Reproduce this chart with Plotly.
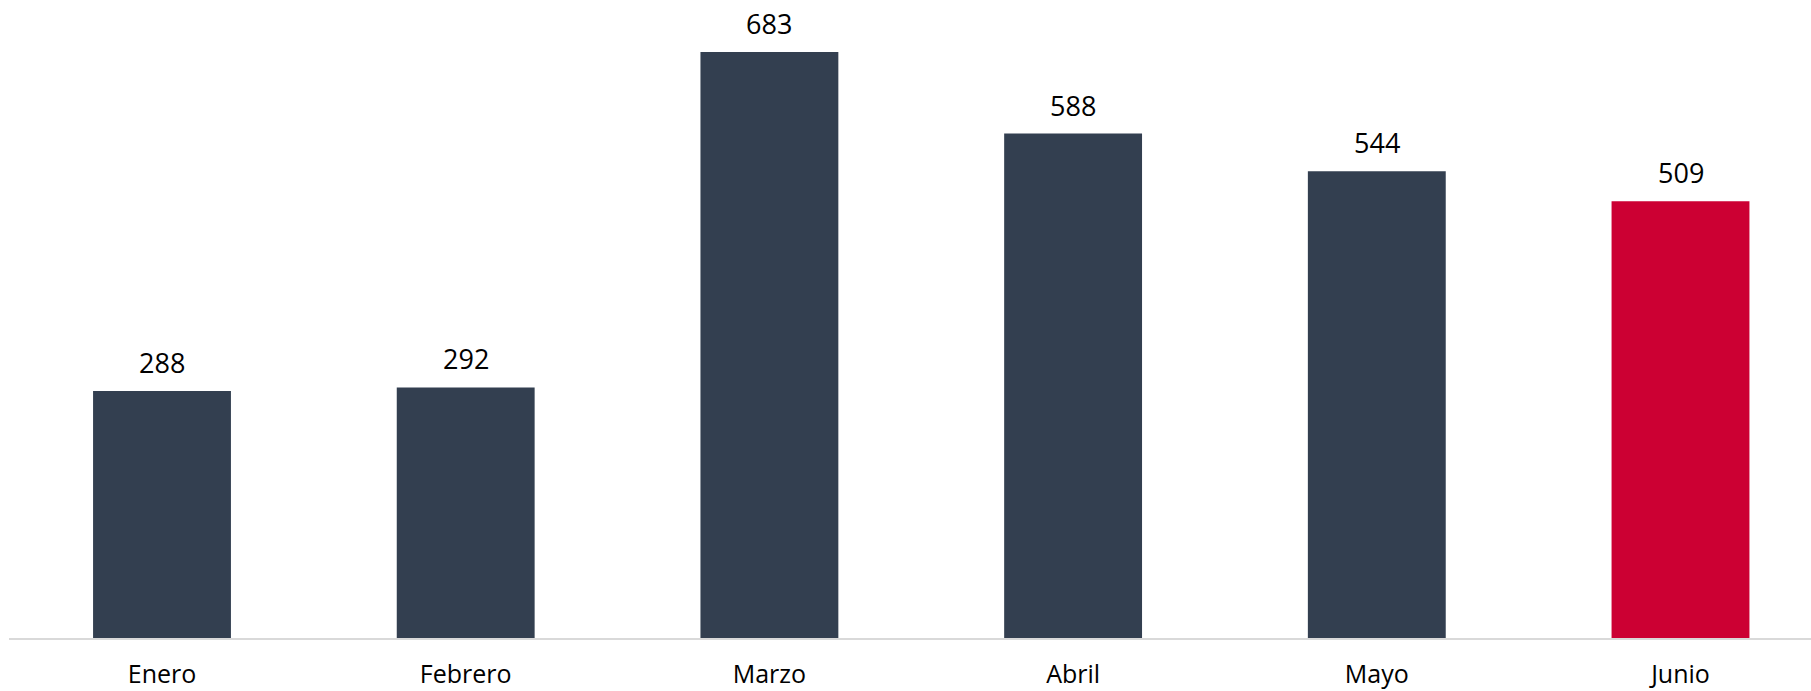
import plotly.graph_objects as go

categories = ["Enero", "Febrero", "Marzo", "Abril", "Mayo", "Junio"]
values = [288, 292, 683, 588, 544, 509]
bar_colors = ["#333F50", "#333F50", "#333F50", "#333F50", "#333F50", "#CC0033"]

FONT = "Open Sans"
VAL_SIZE = 27
TICK_SIZE = 25

fig = go.Figure()
fig.add_trace(go.Bar(
    x=categories,
    y=values,
    marker=dict(color=bar_colors, line=dict(width=0)),
    width=0.454,
    hoverinfo="skip",
))

for c, v in zip(categories, values):
    fig.add_annotation(
        x=c, y=v, text=str(v), showarrow=False,
        xanchor="center", yanchor="bottom", yshift=8,
        font=dict(family=FONT, size=VAL_SIZE, color="#000000"),
    )

fig.update_layout(
    width=1811, height=691,
    margin=dict(l=9, r=0, t=0, b=53, pad=0, autoexpand=False),
    paper_bgcolor="white", plot_bgcolor="white",
    showlegend=False,
    font=dict(family=FONT, size=TICK_SIZE, color="#000000"),
    xaxis=dict(
        range=[-0.5038, 5.4297],
        automargin=False,
        showgrid=False, zeroline=False,
        showline=True, linecolor="#D9D9D9", linewidth=2,
        ticks="", ticklabelstandoff=13,
        tickfont=dict(family=FONT, size=TICK_SIZE, color="#000000"),
        fixedrange=True,
    ),
    yaxis=dict(
        range=[0, 743.6],
        automargin=False,
        visible=False, showgrid=False, zeroline=False,
        fixedrange=True,
    ),
)

fig.write_html("out.html", post_script="document.body.style.margin='0';",
               config={"displayModeBar": False})
